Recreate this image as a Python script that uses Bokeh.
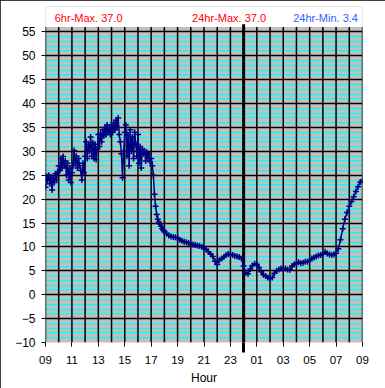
from bokeh.plotting import figure
from bokeh.models import FixedTicker, Range1d, ColumnDataSource
from bokeh.core.properties import value
from bokeh.embed import file_html
from bokeh.resources import INLINE

# Temperature readings, 09:00 -> 18:00 every 5 minutes
temp_5min = [
    22.5, 24.8, 24.0, 25.0, 23.2, 24.6, 21.9, 24.2, 23.5, 25.3, 24.0, 25.6,
    27.0, 26.0, 28.5, 26.5, 28.9, 27.0, 28.0, 25.0, 27.5, 24.0, 26.5, 23.5,
    25.5, 27.0, 30.2, 27.5, 29.0, 26.5, 28.5, 27.0, 26.0, 24.0, 27.5, 25.5,
    29.0, 32.0, 28.5, 31.5, 30.0, 33.0, 29.0, 31.8, 28.5, 31.5, 28.3, 30.5,
    33.5, 31.0, 33.8, 32.0, 34.5, 33.2, 35.0, 33.5, 35.5, 34.0, 34.8, 33.5,
    35.5, 34.0, 36.0, 34.5, 36.5, 35.0, 37.0, 33.5, 32.0, 29.5, 24.5, 30.0,
    34.0, 35.5, 29.0, 33.5, 27.0, 34.5, 30.0, 33.0, 28.5, 34.0, 31.5, 29.0,
    33.5, 27.5, 31.0, 26.5, 30.5, 29.5, 30.0, 28.0, 29.8, 28.5, 29.5, 27.8,
    28.5, 27.0, 25.0, 21.0, 18.5, 16.8, 15.8, 15.2, 14.8, 14.3, 13.8, 13.5, 13.2,
]
# Temperature readings, 18:10 -> 09:00 every 10 minutes
temp_10min = [
    12.8, 12.4, 12.2, 12.1, 12.0,
    11.8, 11.5, 11.3, 11.1, 11.0, 10.8,
    10.6, 10.5, 10.4, 10.3, 10.2, 10.0,
    9.8, 9.5, 9.0, 8.5, 8.0, 7.0,
    6.3, 7.2, 7.6, 7.9, 8.3, 8.5,
    8.4, 8.3, 8.1, 8.0, 7.9, 7.6,
    6.0, 4.6, 4.4, 5.4, 6.1, 6.5,
    6.4, 5.7, 4.8, 4.2, 3.9, 3.6,
    3.4, 3.6, 4.5, 5.0, 5.3, 5.5,
    5.5, 5.5, 5.3, 5.2, 6.0, 6.3,
    6.6, 6.8, 6.6, 6.7, 6.9, 6.9,
    7.2, 7.6, 7.8, 8.0, 8.2, 8.3,
    8.5, 9.0, 8.6, 8.4, 8.3, 8.4,
    8.7, 9.6, 11.5, 13.8, 15.8, 17.2,
    18.5, 19.5, 20.5, 21.6, 22.6, 23.6,
    23.8,
]

hour_ticks = list(range(0, 25, 2))
hour_labels = ["09", "11", "13", "15", "17", "19", "21", "23", "01", "03", "05", "07", "09"]
y_ticks = list(range(-10, 60, 5))
stat_texts = ["6hr-Max. 37.0", "24hr-Max. 37.0", "24hr-Min. 3.4"]
stat_colors = ["#FF0000", "#FF0000", "#3060FF"]
midnight = 15  # hours after 09:00

# hours after 09:00 for each reading
t5 = [i * 5 / 60 for i in range(len(temp_5min))]
t10 = [t5[-1] + (i + 1) * 10 / 60 for i in range(len(temp_10min))]
src = ColumnDataSource(data=dict(t=t5 + t10, temp=temp_5min + temp_10min))

FONT = "Liberation Sans"
X_START, X_END = 0, 24
Y_BOTTOM, Y_GRAY_TOP, Y_TOP = -10, 56, 60.31

p = figure(width=385, height=388, output_backend="svg", toolbar_location=None,
           x_range=Range1d(X_START, X_END), y_range=Range1d(Y_BOTTOM, Y_TOP),
           min_border_left=45, min_border_right=23, min_border_top=6, min_border_bottom=46,
           background_fill_color="#C0C0C0", border_fill_color="white",
           outline_line_color=None)
p.styles = {"outline": "1px solid black", "outline-offset": "-1px"}

# x axis
xa = p.xaxis[0]
xa.ticker = FixedTicker(ticks=hour_ticks, minor_ticks=[midnight])
xa.major_label_overrides = {t: l for t, l in zip(hour_ticks, hour_labels)}
xa.axis_line_color = None
xa.major_tick_in = 0
xa.major_tick_out = 4
xa.major_tick_line_color = "black"
xa.minor_tick_in = 0
xa.minor_tick_out = 10
xa.minor_tick_line_width = 3
xa.minor_tick_line_color = "black"
xa.major_label_standoff = 3
xa.major_label_text_font = FONT
xa.major_label_text_font_size = "11.5px"
xa.major_label_text_color = "black"
xa.axis_label = "Hour"
xa.axis_label_standoff = 4
xa.axis_label_text_font = FONT
xa.axis_label_text_font_size = "12px"
xa.axis_label_text_font_style = "normal"
xa.axis_label_text_color = "black"

# y axis
ya = p.yaxis[0]
ya.ticker = FixedTicker(ticks=y_ticks)
ya.axis_line_color = None
ya.major_tick_in = 0
ya.major_tick_out = 4
ya.minor_tick_line_color = None
ya.major_label_standoff = 6
ya.major_label_text_font = FONT
ya.major_label_text_font_size = "12px"
ya.major_label_text_color = "black"

# horizontal grid (black every 5, cyan every unit)
p.xgrid.grid_line_color = None
p.ygrid.ticker = FixedTicker(ticks=y_ticks,
                             minor_ticks=[v for v in range(-10, 56) if v % 5])
p.ygrid.grid_line_color = "black"
p.ygrid.grid_line_width = 1.5
p.ygrid.minor_grid_line_color = "#00FFFF"
p.ygrid.minor_grid_line_width = 1.25

# white band above the gray plotting area (holds the statistics texts)
p.quad(left=[X_START], right=[X_END], bottom=[Y_GRAY_TOP], top=[Y_TOP],
       fill_color="white", fill_alpha=1.0, line_color=None)

# hourly vertical grid lines, limited to the gray area
hours = list(range(X_START, X_END + 1))
p.segment(x0=hours, y0=[Y_BOTTOM] * len(hours), x1=hours, y1=[Y_GRAY_TOP] * len(hours),
          line_color="black", line_width=1.5)

# midnight marker (pokes out a little above the gray area)
p.segment(x0=[midnight], y0=[Y_BOTTOM], x1=[midnight], y1=[Y_GRAY_TOP + 0.6],
          line_color="black", line_width=3)

NAVY = "#000080"
p.line("t", "temp", source=src, line_color=NAVY, line_width=1.5)
p.scatter("t", "temp", source=src, marker="cross", size=6, line_color=NAVY, line_width=1.5)

p.text(x=[0.7, 11.1, 18.75], y=[57.8, 57.8, 57.8], text=stat_texts,
       text_color=stat_colors, text_font=value(FONT), text_font_size="11px",
       text_baseline="alphabetic", text_align="left")

open("out.html", "w").write(file_html(p, INLINE))
